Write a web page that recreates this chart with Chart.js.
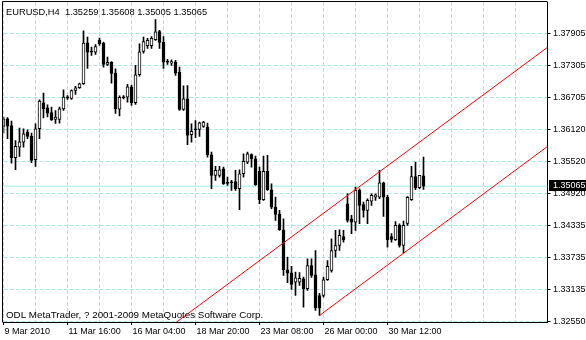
<!DOCTYPE html>
<html>
<head>
<meta charset="utf-8">
<script src="https://cdn.jsdelivr.net/npm/chart.js@4/dist/chart.umd.min.js"></script>
<style>
  html, body { margin: 0; padding: 0; background: #fff; }
  #wrap { width: 586px; height: 340px; }
</style>
</head>
<body>
<div id="wrap"><canvas id="chart" width="586" height="340"></canvas></div>
<script>
// EURUSD H4 bars from 9 Mar 2010
const opens = [
  1.36176, 1.36319, 1.36194, 1.35594, 1.35791, 1.35884, 1.36070, 1.35990, 1.35557, 1.36133,
  1.36616, 1.36520, 1.36436, 1.36306, 1.36306, 1.36501, 1.36728, 1.36696, 1.36845, 1.36895,
  1.36970, 1.37732, 1.37561, 1.37557, 1.37784, 1.37725, 1.37329, 1.37366, 1.37167, 1.36497,
  1.36724, 1.36721, 1.36914, 1.36616, 1.37137, 1.37570, 1.37676, 1.37676, 1.37788, 1.37942,
  1.37738, 1.37375, 1.37353, 1.37371, 1.37185, 1.36492, 1.36691, 1.36021, 1.36120, 1.36120,
  1.36176, 1.36163, 1.35650, 1.35265, 1.35265, 1.35389, 1.35125, 1.35140, 1.35153, 1.35017,
  1.35296, 1.35512, 1.35655, 1.35575, 1.35339, 1.34813, 1.35339, 1.34999, 1.34675, 1.34540,
  1.34255, 1.33511, 1.33452, 1.33281, 1.33281, 1.33344, 1.33158, 1.33591, 1.33418, 1.33033,
  1.33033, 1.33325, 1.33498, 1.33870, 1.33963, 1.34130, 1.34738, 1.34460, 1.34396, 1.34986,
  1.34725, 1.34614, 1.34787, 1.34861, 1.34861, 1.35129, 1.34861, 1.34130, 1.34069, 1.34335,
  1.33963, 1.34372, 1.34813, 1.35246, 1.35036, 1.35259
];
const highs = [
  1.36349, 1.36343, 1.36274, 1.35915, 1.36144, 1.36133, 1.36114, 1.36051, 1.36226, 1.36672,
  1.36795, 1.36579, 1.36535, 1.36473, 1.36535, 1.36858, 1.36752, 1.36858, 1.36920, 1.36981,
  1.37952, 1.37836, 1.37650, 1.37700, 1.37818, 1.37743, 1.37464, 1.37384, 1.37245, 1.36743,
  1.36752, 1.36957, 1.36947, 1.37310, 1.37713, 1.37836, 1.37812, 1.37849, 1.38165, 1.37961,
  1.37849, 1.37422, 1.37416, 1.37403, 1.37278, 1.36929, 1.36938, 1.36226, 1.36287, 1.36256,
  1.36269, 1.36237, 1.35698, 1.35432, 1.35432, 1.35419, 1.35233, 1.35172, 1.35358, 1.35371,
  1.35668, 1.35698, 1.35668, 1.35624, 1.35419, 1.35624, 1.35637, 1.35110, 1.34861, 1.34614,
  1.34460, 1.33746, 1.33573, 1.33467, 1.33461, 1.33374, 1.33716, 1.33716, 1.33870, 1.33071,
  1.33374, 1.33684, 1.34088, 1.34242, 1.34255, 1.34242, 1.34924, 1.34521, 1.35047, 1.35017,
  1.34768, 1.34831, 1.34924, 1.34924, 1.35358, 1.35140, 1.34893, 1.34186, 1.34409, 1.34367,
  1.34415, 1.34874, 1.35432, 1.35512, 1.35265, 1.35608
];
const lows = [
  1.36051, 1.35947, 1.35493, 1.35371, 1.35618, 1.35791, 1.35947, 1.35501, 1.35432, 1.35947,
  1.36334, 1.36352, 1.36287, 1.36232, 1.36237, 1.36473, 1.36678, 1.36678, 1.36771, 1.36882,
  1.36957, 1.37254, 1.37496, 1.37515, 1.37682, 1.37278, 1.37310, 1.36981, 1.36418, 1.36371,
  1.36687, 1.36628, 1.36566, 1.36585, 1.37111, 1.37539, 1.37626, 1.37626, 1.37775, 1.37626,
  1.37254, 1.37329, 1.37310, 1.37124, 1.36473, 1.36473, 1.35836, 1.35884, 1.35966, 1.35990,
  1.36157, 1.35605, 1.35017, 1.35172, 1.35233, 1.35097, 1.35079, 1.34986, 1.34986, 1.34627,
  1.35233, 1.35482, 1.35419, 1.35079, 1.34738, 1.34800, 1.34986, 1.34646, 1.34428, 1.34242,
  1.33405, 1.33270, 1.33145, 1.33033, 1.33219, 1.32816, 1.33126, 1.33368, 1.32754, 1.32661,
  1.33002, 1.33312, 1.33467, 1.33746, 1.33870, 1.34024, 1.34396, 1.34181, 1.34242, 1.34367,
  1.34489, 1.34367, 1.34707, 1.34800, 1.34831, 1.34502, 1.33932, 1.34024, 1.34056, 1.33932,
  1.33820, 1.34335, 1.34800, 1.34999, 1.35017, 1.35005
];
const closes = [
  1.36319, 1.36181, 1.35594, 1.35804, 1.35891, 1.36040, 1.35990, 1.35544, 1.36133, 1.36646,
  1.36501, 1.36423, 1.36297, 1.36349, 1.36505, 1.36724, 1.36702, 1.36845, 1.36895, 1.36970,
  1.37728, 1.37557, 1.37557, 1.37663, 1.37713, 1.37329, 1.37366, 1.37161, 1.36501, 1.36715,
  1.36709, 1.36914, 1.36616, 1.37137, 1.37565, 1.37756, 1.37775, 1.37816, 1.37937, 1.37738,
  1.37371, 1.37371, 1.37384, 1.37167, 1.36492, 1.36691, 1.36008, 1.36083, 1.36114, 1.36245,
  1.36256, 1.35650, 1.35265, 1.35358, 1.35371, 1.35110, 1.35116, 1.35129, 1.35017, 1.35296,
  1.35525, 1.35668, 1.35575, 1.35092, 1.34813, 1.35339, 1.34999, 1.34675, 1.34540, 1.34255,
  1.33511, 1.33448, 1.33238, 1.33363, 1.33350, 1.33158, 1.33591, 1.33405, 1.32801, 1.32801,
  1.33325, 1.33573, 1.33870, 1.33963, 1.34149, 1.34069, 1.34428, 1.34396, 1.34986, 1.34707,
  1.34614, 1.34800, 1.34893, 1.34906, 1.35129, 1.34861, 1.34069, 1.34075, 1.34335, 1.33963,
  1.34335, 1.34856, 1.35246, 1.35036, 1.35265, 1.35065
];

// time labels sit every 16 bars, grid every 8
const timeLabels = ['9 Mar 2010', '11 Mar 16:00', '16 Mar 04:00', '18 Mar 20:00',
                    '23 Mar 08:00', '26 Mar 00:00', '30 Mar 12:00'];
const priceTicks = [1.37905, 1.37305, 1.36705, 1.36120, 1.35520, 1.34920,
                    1.34335, 1.33735, 1.33135, 1.32550];

const bidPrice = 1.35065;
// channel lines: [bar index, price]
const upperChannel = [[43, 1.32524], [136, 1.37647]];
const lowerChannel = [[79, 1.32661], [136, 1.35804]];

const headerText = 'EURUSD,H4  1.35259 1.35608 1.35005 1.35065';
const footerText = 'ODL MetaTrader, ? 2001-2009 MetaQuotes Software Corp.';

const gridColor = '#ade6e6';
const bidColor = '#a0eeee';
const family = "'Liberation Sans', Arial, sans-serif";
const axisFont = { family, size: 9 };

const bodies = opens.map((o, i) => ({ x: i, y: [o, closes[i]] }));
const wicks = lows.map((l, i) => ({ x: i, y: [l, highs[i]] }));
const bodyFill = opens.map((o, i) => closes[i] >= o ? '#ffffff' : '#000000');

const framePlugin = {
  id: 'frame',
  afterDraw(chart) {
    const { ctx, chartArea: a, scales: { y } } = chart;
    ctx.save();
    ctx.strokeStyle = '#000';
    ctx.lineWidth = 1;
    ctx.beginPath();
    ctx.moveTo(2.5, a.bottom + 0.5);
    ctx.lineTo(2.5, 1.5);
    ctx.lineTo(a.right, 1.5);
    ctx.stroke();

    ctx.fillStyle = '#000';
    ctx.textBaseline = 'alphabetic';
    ctx.font = `9.3px ${family}`;
    ctx.fillText(headerText, 6, 15);
    ctx.font = `9.8px ${family}`;
    ctx.fillText(footerText, 6, 318);

    // current price marker on the scale
    const py = Math.round(y.getPixelForValue(bidPrice));
    ctx.fillRect(549, py - 6, 37, 11);
    ctx.fillStyle = '#fff';
    ctx.font = `9px ${family}`;
    ctx.textBaseline = 'middle';
    ctx.fillText(bidPrice.toFixed(5), 553, py);
    ctx.restore();
  }
};

new Chart(document.getElementById('chart'), {
  type: 'bar',
  data: {
    datasets: [
      {
        type: 'line',
        data: upperChannel.map(p => ({ x: p[0], y: p[1] })),
        borderColor: '#ff0000', borderWidth: 1, pointRadius: 0, order: 0
      },
      {
        type: 'line',
        data: lowerChannel.map(p => ({ x: p[0], y: p[1] })),
        borderColor: '#ff0000', borderWidth: 1, pointRadius: 0, order: 0
      },
      {
        data: bodies,
        backgroundColor: bodyFill,
        borderColor: '#000', borderWidth: 1, borderSkipped: false,
        barThickness: 3, minBarLength: 1, grouped: false, order: 1
      },
      {
        data: wicks,
        backgroundColor: '#000',
        barThickness: 1, grouped: false, order: 2
      },
      {
        type: 'line',
        data: [{ x: 0, y: bidPrice }, { x: 136, y: bidPrice }],
        borderColor: bidColor, borderWidth: 1, pointRadius: 0, order: 3
      }
    ]
  },
  options: {
    responsive: false,
    animation: false,
    devicePixelRatio: 1,
    layout: { padding: { left: 3.5, top: 2, right: 0, bottom: 0 } },
    plugins: { legend: { display: false }, tooltip: { enabled: false } },
    scales: {
      x: {
        type: 'linear', min: 0, max: 136, offset: false,
        afterBuildTicks: s => {
          s.ticks = [];
          for (let v = 0; v <= 136; v += 8) s.ticks.push({ value: v });
        },
        afterFit: s => { s.height = 18; s.paddingLeft = 0; s.paddingRight = 0; },
        grid: {
          color: gridColor, lineWidth: 1, offset: false, tickLength: 3,
          tickColor: c => (c.index % 2 === 0 && c.index / 2 < timeLabels.length) ? '#000' : 'rgba(0,0,0,0)'
        },
        border: { color: '#000', dash: [4, 2] },
        ticks: {
          align: 'start', labelOffset: 1, padding: 1, maxRotation: 0, autoSkip: false,
          color: '#000', font: axisFont,
          callback: v => (v % 16 === 0 && timeLabels[v / 16]) ? timeLabels[v / 16] : ''
        }
      },
      y: {
        position: 'right', min: 1.3253978, max: 1.3848978,
        afterBuildTicks: s => { s.ticks = priceTicks.map(v => ({ value: v })); },
        afterFit: s => { s.width = 38.5; s.paddingTop = 0; s.paddingBottom = 0; },
        grid: { color: gridColor, lineWidth: 1, tickLength: 3, tickColor: '#000' },
        border: { color: '#000', dash: [4, 2] },
        ticks: {
          padding: 2.5, autoSkip: false, color: '#000', font: axisFont,
          callback: v => v.toFixed(5)
        }
      }
    }
  },
  plugins: [framePlugin]
});
</script>
</body>
</html>
